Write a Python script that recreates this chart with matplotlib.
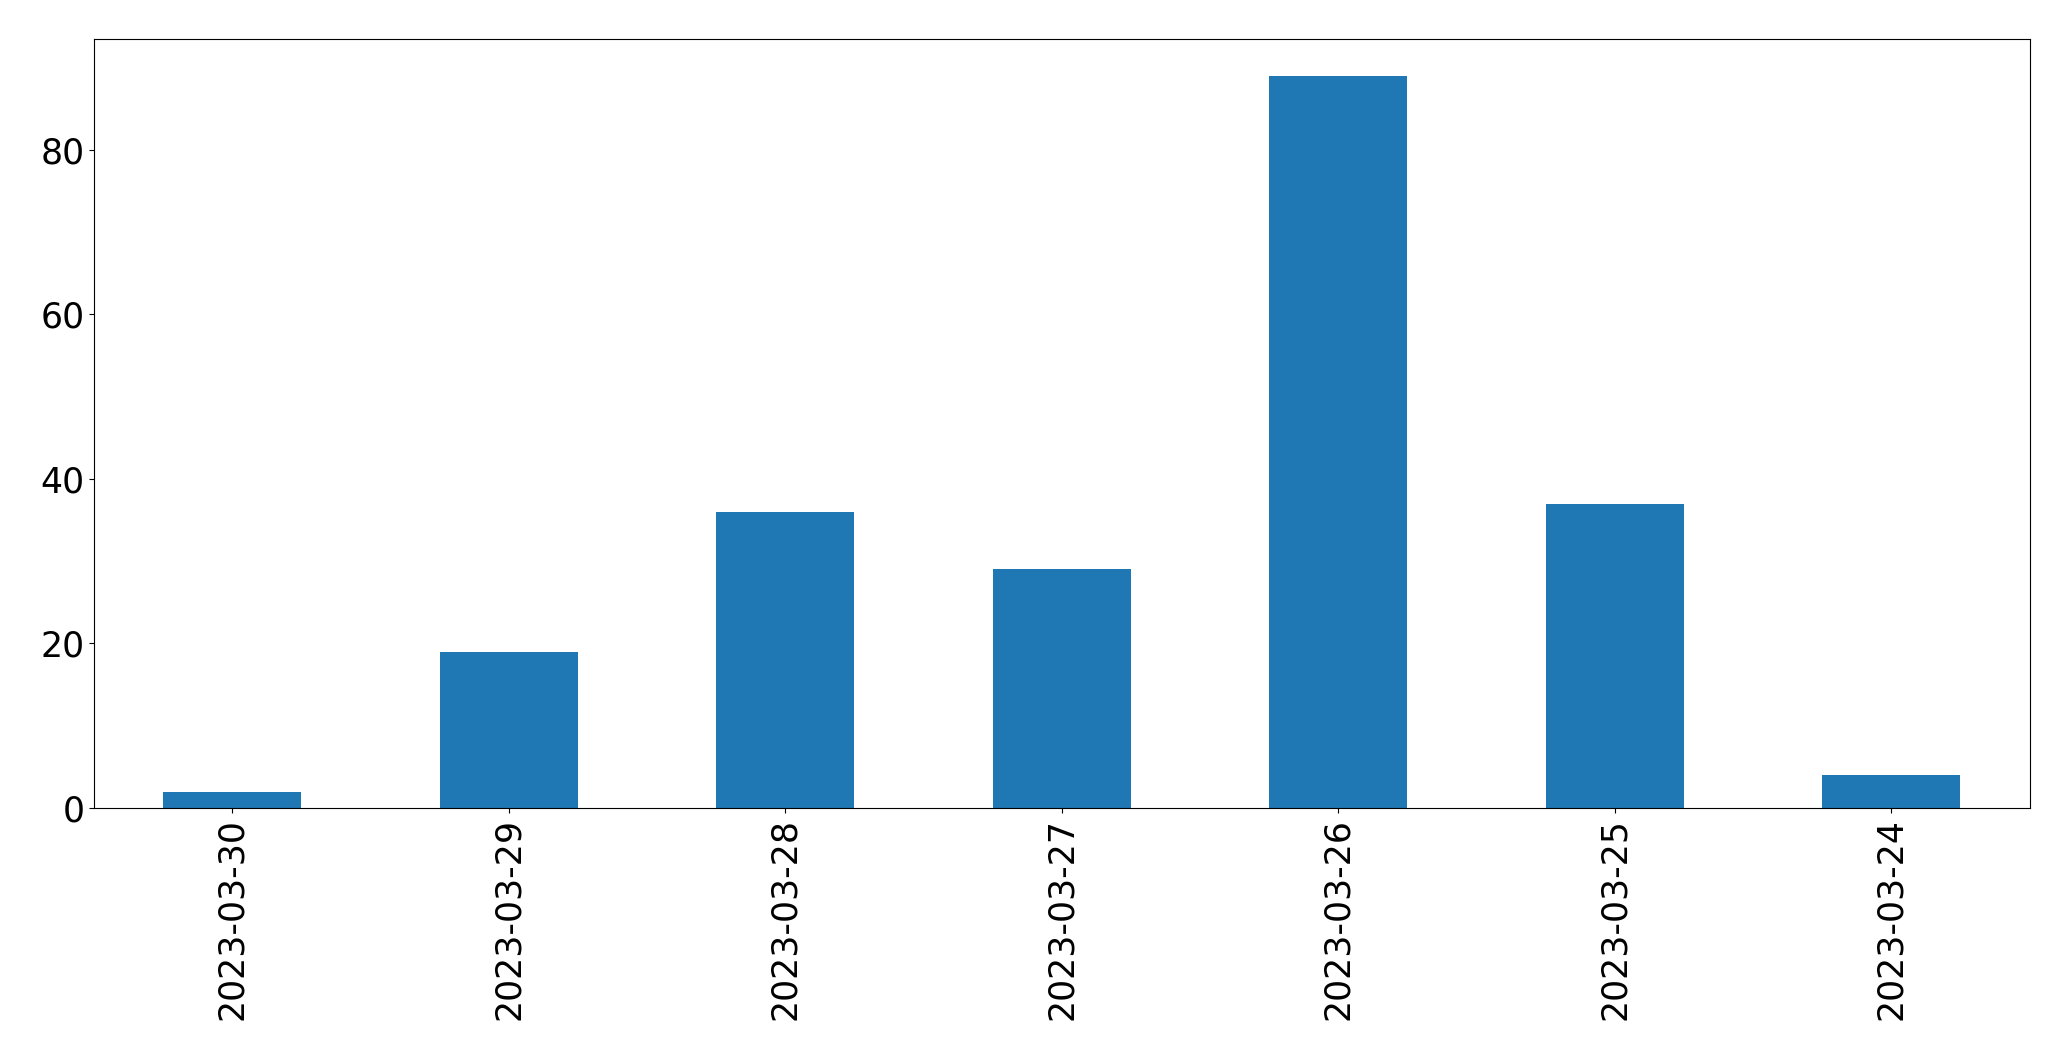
import matplotlib
matplotlib.use('Agg')
import matplotlib.pyplot as plt
import pandas as pd

# Daily counts, newest first
dates = ['2023-03-30', '2023-03-29', '2023-03-28', '2023-03-27',
         '2023-03-26', '2023-03-25', '2023-03-24']
counts = [2, 19, 36, 29, 89, 37, 4]

series = pd.Series(counts, index=dates)

fig, ax = plt.subplots(figsize=(20.71, 10.61), dpi=100)
series.plot(kind='bar', ax=ax, color='#1f77b4', width=0.5)

ax.tick_params(axis='both', labelsize=25)
ax.set_xlim(-0.5, len(dates) - 0.5)

plt.subplots_adjust(left=0.0454, right=0.980, top=0.963, bottom=0.2385)
plt.savefig('out.png', dpi=100)
